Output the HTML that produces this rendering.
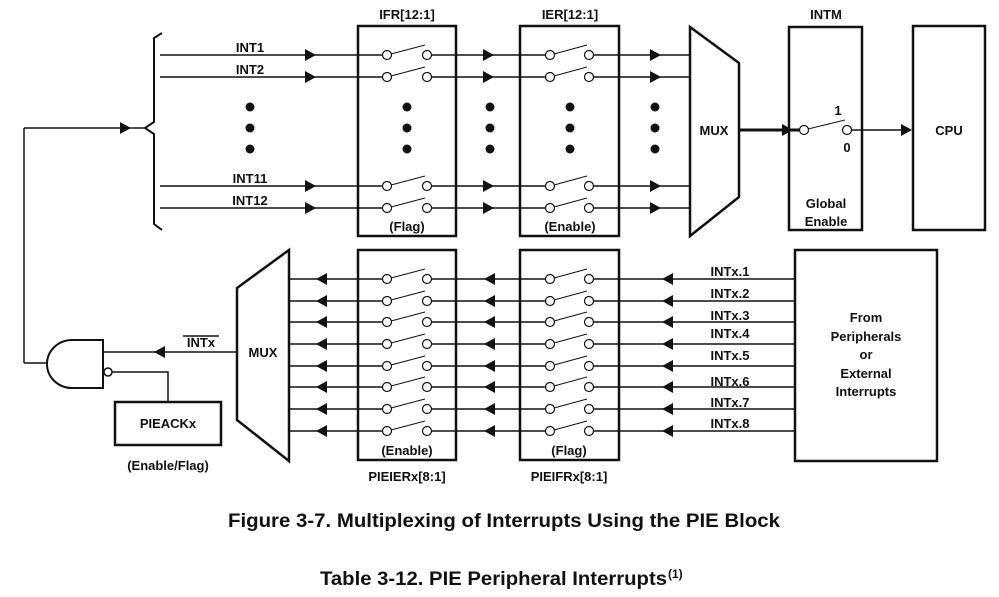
<!DOCTYPE html>
<html><head><meta charset="utf-8"><style>
html,body{margin:0;padding:0;background:#fff;}
svg{display:block;font-family:"Liberation Sans",Arial,sans-serif;font-weight:bold;}
</style></head><body>
<svg id="s" width="999" height="597" viewBox="0 0 999 597" xmlns="http://www.w3.org/2000/svg">
<g stroke="#111" fill="none" stroke-width="1.5" id="g">
<path d="M162,33 L154,38 L154,122 L145,128 L154,134 L154,224 L162,230" stroke-width="2"/>
<line x1="24" y1="128" x2="145" y2="128"/>
<line x1="24" y1="128" x2="24" y2="363"/>
<line x1="24" y1="363" x2="47" y2="363"/>
<rect x="358" y="26" width="98" height="210" stroke-width="2.5"/>
<rect x="520" y="26" width="99" height="210" stroke-width="2.5"/>
<rect x="789" y="27" width="73" height="203" stroke-width="2.5"/>
<rect x="913" y="26" width="72" height="204" stroke-width="2.5"/>
<rect x="358" y="250" width="98" height="210" stroke-width="2.5"/>
<rect x="520" y="250" width="99" height="210" stroke-width="2.5"/>
<rect x="795" y="250" width="142" height="211" stroke-width="2.5"/>
<rect x="115" y="402" width="106" height="43" stroke-width="2.5"/>
<path d="M690,27 L739,63 L739,197 L690,236 Z" stroke-width="2.5"/>
<path d="M289,250 L237,288 L237,420 L289,461 Z" stroke-width="2.5"/>
<line x1="739" y1="130" x2="800" y2="130" stroke-width="3"/>
<line x1="851" y1="130" x2="910" y2="130"/>
<path d="M103,340 L72,340 A25,24 0 0 0 72,388 L103,388 Z" stroke-width="2"/>
<line x1="103" y1="352" x2="237" y2="352"/>
<circle cx="108" cy="372" r="4"/>
<polyline points="112,372 168,372 168,402"/>
</g>
<g fill="#111" id="ar"></g>
<g fill="#111" font-size="13">
<text x="250" y="52" text-anchor="middle">INT1</text>
<text x="250" y="74" text-anchor="middle">INT2</text>
<text x="250" y="183" text-anchor="middle">INT11</text>
<text x="250" y="205" text-anchor="middle">INT12</text>
<text x="407" y="19" text-anchor="middle">IFR[12:1]</text>
<text x="570" y="19" text-anchor="middle">IER[12:1]</text>
<text x="826" y="19" text-anchor="middle">INTM</text>
<text x="407" y="231" text-anchor="middle">(Flag)</text>
<text x="570" y="231" text-anchor="middle">(Enable)</text>
<text x="714" y="135" text-anchor="middle">MUX</text>
<text x="838" y="115" text-anchor="middle">1</text>
<text x="847" y="152" text-anchor="middle">0</text>
<text x="826" y="208" text-anchor="middle">Global</text>
<text x="826" y="226" text-anchor="middle">Enable</text>
<text x="949" y="135" text-anchor="middle">CPU</text>
<text x="263" y="357" text-anchor="middle">MUX</text>
<text x="201" y="347" text-anchor="middle">INTx</text>
<line x1="183" y1="336" x2="219" y2="336" stroke="#111" stroke-width="1.5"/>
<text x="168" y="428" text-anchor="middle">PIEACKx</text>
<text x="168" y="470" text-anchor="middle">(Enable/Flag)</text>
<text x="407" y="455" text-anchor="middle">(Enable)</text>
<text x="569" y="455" text-anchor="middle">(Flag)</text>
<text x="407" y="481" text-anchor="middle">PIEIERx[8:1]</text>
<text x="569" y="481" text-anchor="middle">PIEIFRx[8:1]</text>
<text x="866" y="322" text-anchor="middle">From</text>
<text x="866" y="341" text-anchor="middle">Peripherals</text>
<text x="866" y="359" text-anchor="middle">or</text>
<text x="866" y="378" text-anchor="middle">External</text>
<text x="866" y="396" text-anchor="middle">Interrupts</text>
<text x="730" y="276" text-anchor="middle">INTx.1</text>
<text x="730" y="298" text-anchor="middle">INTx.2</text>
<text x="730" y="320" text-anchor="middle">INTx.3</text>
<text x="730" y="338" text-anchor="middle">INTx.4</text>
<text x="730" y="360" text-anchor="middle">INTx.5</text>
<text x="730" y="386" text-anchor="middle">INTx.6</text>
<text x="730" y="407" text-anchor="middle">INTx.7</text>
<text x="730" y="428" text-anchor="middle">INTx.8</text>
<text x="228" y="527" font-size="19" textLength="552" lengthAdjust="spacingAndGlyphs">Figure 3-7. Multiplexing of Interrupts Using the PIE Block</text>
<text x="320" y="585" font-size="19" textLength="347" lengthAdjust="spacingAndGlyphs">Table 3-12. PIE Peripheral Interrupts</text>
<text x="668" y="578" font-size="12">(1)</text>
</g>
</svg>
<script>
var NS="http://www.w3.org/2000/svg",g=document.getElementById('g'),ar=document.getElementById('ar');
function el(p,t,a){var e=document.createElementNS(NS,t);for(var k in a)e.setAttribute(k,a[k]);p.appendChild(e);return e;}
function arR(x,y){el(ar,'path',{d:'M'+(x-5)+','+(y-6)+' L'+(x+6)+','+y+' L'+(x-5)+','+(y+6)+'Z'});}
function arL(x,y){el(ar,'path',{d:'M'+(x+5)+','+(y-6)+' L'+(x-6)+','+y+' L'+(x+5)+','+(y+6)+'Z'});}
function sw(x1,x2,y){
 el(g,'line',{x1:x1+4,y1:y-1,x2:x2-2,y2:y-10,'stroke-width':1});
 el(g,'circle',{cx:x1,cy:y,r:4.5,fill:'#fff','stroke-width':1.2});
 el(g,'circle',{cx:x2,cy:y,r:4.5,fill:'#fff','stroke-width':1.2});}
[55,77,186,208].forEach(function(y){
 el(g,'line',{x1:160,y1:y,x2:383,y2:y});el(g,'line',{x1:431,y1:y,x2:546,y2:y});el(g,'line',{x1:593,y1:y,x2:690,y2:y});
 arR(310,y);arR(488,y);arR(655,y);sw(387,427,y);sw(550,589,y);});
[279,301,322,344,366,387,409,431].forEach(function(y){
 el(g,'line',{x1:289,y1:y,x2:383,y2:y});el(g,'line',{x1:431,y1:y,x2:546,y2:y});el(g,'line',{x1:593,y1:y,x2:795,y2:y});
 arL(322,y);arL(490,y);arL(668,y);sw(387,427,y);sw(550,589,y);});
[250,407,490,570,655].forEach(function(x){[107,128,149].forEach(function(y){el(ar,'circle',{cx:x,cy:y,r:4.5});});});
arR(787,130);arR(906,130);arR(125,128);arL(160,352);
sw(804,847,130);
</script>
</body></html>
